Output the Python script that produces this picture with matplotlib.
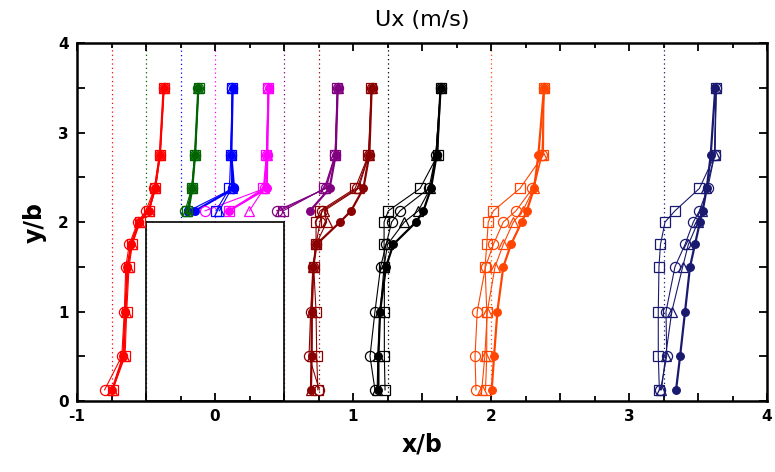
import matplotlib
matplotlib.use("Agg")
import matplotlib.pyplot as plt
import numpy as np
from matplotlib.patches import Rectangle
from matplotlib.ticker import MultipleLocator, FuncFormatter

# measurement heights (y/b)
y_full = [0.125, 0.5, 1.0, 1.5, 1.75, 2.0, 2.125, 2.375, 2.75, 3.5]
y_top = [2.125, 2.375, 2.75, 3.5]

# station positions (x/b) and colours
stations = [-0.75, -0.5, -0.25, 0.0, 0.5, 0.75, 1.25, 2.0, 3.25]
colors = ["#ff0000", "#006400", "#0000ff", "#ff00ff", "#800080",
          "#8b0000", "#000000", "#ff4500", "#191970"]

# profile positions, rows = filled circle, open circle, open triangle, open square
p_m075 = [[-0.745, -0.665, -0.650, -0.635, -0.608, -0.552, -0.482, -0.435, -0.400, -0.372],
          [-0.800, -0.676, -0.657, -0.647, -0.621, -0.560, -0.500, -0.440, -0.402, -0.372],
          [-0.744, -0.660, -0.648, -0.630, -0.605, -0.548, -0.478, -0.433, -0.398, -0.370],
          [-0.741, -0.652, -0.640, -0.623, -0.599, -0.543, -0.478, -0.432, -0.398, -0.370]]
p_m050 = [[-0.193, -0.165, -0.145, -0.121],
          [-0.217, -0.170, -0.147, -0.121],
          [-0.205, -0.168, -0.145, -0.121],
          [-0.200, -0.165, -0.143, -0.119]]
p_m025 = [[-0.145, 0.138, 0.118, 0.128],
          [-0.190, 0.130, 0.116, 0.126],
          [0.031, 0.120, 0.116, 0.126],
          [0.007, 0.104, 0.114, 0.126]]
p_000 = [[0.100, 0.375, 0.378, 0.388],
         [-0.072, 0.360, 0.375, 0.386],
         [0.249, 0.355, 0.375, 0.386],
         [0.104, 0.350, 0.372, 0.386]]
p_050 = [[0.688, 0.830, 0.874, 0.889],
         [0.447, 0.805, 0.872, 0.889],
         [0.470, 0.800, 0.872, 0.889],
         [0.495, 0.792, 0.870, 0.887]]
p_075 = [[0.695, 0.700, 0.700, 0.712, 0.735, 0.906, 0.986, 1.075, 1.118, 1.135],
         [0.756, 0.681, 0.693, 0.712, 0.732, 0.761, 0.775, 1.030, 1.115, 1.135],
         [0.693, 0.700, 0.705, 0.712, 0.732, 0.809, 0.790, 1.040, 1.115, 1.135],
         [0.745, 0.737, 0.732, 0.715, 0.732, 0.732, 0.761, 1.015, 1.112, 1.133]]
p_125 = [[1.184, 1.184, 1.196, 1.239, 1.292, 1.457, 1.510, 1.565, 1.606, 1.635],
         [1.159, 1.123, 1.159, 1.200, 1.240, 1.280, 1.341, 1.550, 1.600, 1.635],
         [1.175, 1.180, 1.196, 1.225, 1.250, 1.372, 1.473, 1.560, 1.600, 1.635],
         [1.232, 1.227, 1.227, 1.227, 1.225, 1.225, 1.256, 1.486, 1.614, 1.635]]
p_200 = [[2.005, 2.022, 2.046, 2.089, 2.145, 2.222, 2.259, 2.312, 2.343, 2.384],
         [1.891, 1.884, 1.900, 1.960, 2.017, 2.089, 2.181, 2.300, 2.370, 2.384],
         [1.933, 1.955, 1.973, 2.029, 2.089, 2.162, 2.230, 2.310, 2.370, 2.384],
         [1.960, 1.969, 1.969, 1.957, 1.969, 1.980, 2.017, 2.210, 2.380, 2.384]]
p_325 = [[3.341, 3.370, 3.406, 3.442, 3.478, 3.514, 3.534, 3.563, 3.592, 3.625],
         [3.228, 3.273, 3.268, 3.333, 3.406, 3.466, 3.510, 3.570, 3.620, 3.632],
         [3.235, 3.265, 3.310, 3.389, 3.430, 3.500, 3.530, 3.560, 3.620, 3.630],
         [3.220, 3.212, 3.212, 3.217, 3.228, 3.261, 3.333, 3.510, 3.623, 3.632]]
profiles = [p_m075, p_m050, p_m025, p_000, p_050, p_075, p_125, p_200, p_325]

# block: x from -0.5 to 0.5, height 2
block_x0, block_w, block_h = -0.5, 1.0, 2.0

fig = plt.figure(figsize=(7.75, 4.72), dpi=100)
ax = fig.add_axes([0.0994, 0.1504, 0.8903, 0.7585])

ax.add_patch(Rectangle((block_x0, 0), block_w, block_h, fill=False,
                       edgecolor="black", linewidth=1.2, zorder=2))

for xs, col in zip(stations, colors):
    inside = block_x0 < xs < block_x0 + block_w
    ax.plot([xs, xs], [block_h if inside else 0, 4], ls=(0, (1, 2.5)),
            color=col, lw=0.9, zorder=1)

styles = [dict(marker="o", mfc=None, ms=5.5, lw=1.6),
          dict(marker="o", mfc="none", ms=7.3, lw=0.8),
          dict(marker="^", mfc="none", ms=6.5, lw=0.8),
          dict(marker="s", mfc="none", ms=7.3, lw=0.8)]

for prof, col in zip(profiles, colors):
    yy = y_full if len(prof[0]) == len(y_full) else y_top
    for k, row in enumerate(prof):
        st = dict(styles[k])
        mfc = st.pop("mfc")
        ax.plot(row, yy, color=col, mec=col, mfc=col if mfc is None else mfc,
                mew=0.9, zorder=3 + k, **st)

ax.set_xlim(-1, 4)
ax.set_ylim(0, 4)
ax.xaxis.set_major_locator(MultipleLocator(0.5))
ax.xaxis.set_minor_locator(MultipleLocator(0.25))
ax.yaxis.set_major_locator(MultipleLocator(0.5))
intfmt = FuncFormatter(lambda v, p: "%d" % round(v) if abs(v - round(v)) < 1e-6 else "")
ax.xaxis.set_major_formatter(intfmt)
ax.yaxis.set_major_formatter(intfmt)
ax.tick_params(which="both", direction="in", top=True, right=True, width=1.3)
ax.tick_params(which="major", length=6, labelsize=11, pad=6)
ax.tick_params(which="minor", length=3.5)
for lab in ax.get_xticklabels() + ax.get_yticklabels():
    lab.set_fontweight("bold")
for sp in ax.spines.values():
    sp.set_linewidth(1.8)

ax.set_title("Ux (m/s)", fontsize=16, pad=12)
ax.set_xlabel("x/b", fontsize=17, fontweight="bold", labelpad=6)
ax.set_ylabel("y/b", fontsize=17, fontweight="bold", labelpad=8)

fig.savefig("out.png", dpi=100)
